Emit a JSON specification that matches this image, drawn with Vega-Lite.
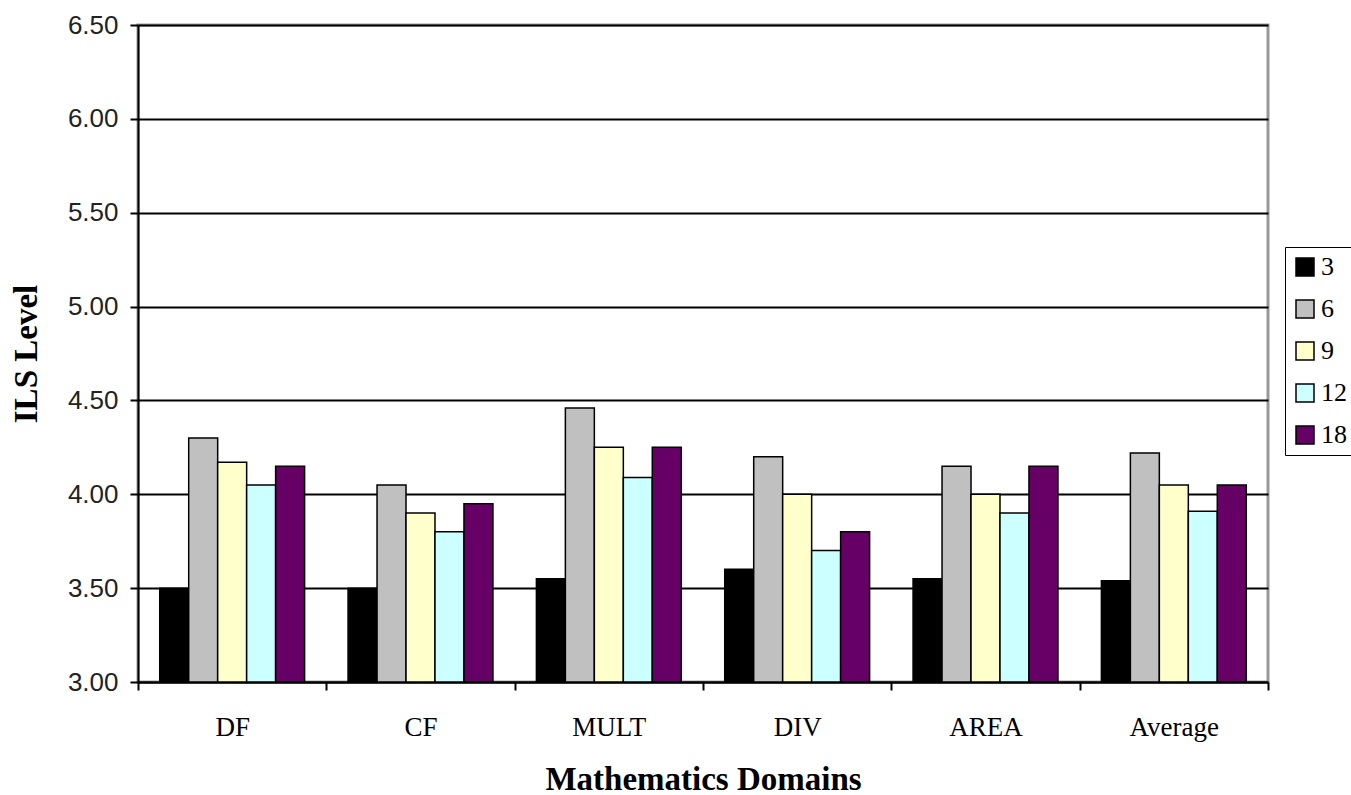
{
  "$schema": "https://vega.github.io/schema/vega-lite/v6.json",
  "autosize": "none",
  "width": 1130,
  "height": 657,
  "padding": {"left": 138, "top": 25, "right": 83, "bottom": 113},
  "background": "white",
  "view": {"stroke": "#999999", "strokeWidth": 3, "fill": "white"},
  "data": {
    "values": [
      {"domain": "DF", "series": "3", "level": 3.50},
      {"domain": "DF", "series": "6", "level": 4.30},
      {"domain": "DF", "series": "9", "level": 4.17},
      {"domain": "DF", "series": "12", "level": 4.05},
      {"domain": "DF", "series": "18", "level": 4.15},
      {"domain": "CF", "series": "3", "level": 3.50},
      {"domain": "CF", "series": "6", "level": 4.05},
      {"domain": "CF", "series": "9", "level": 3.90},
      {"domain": "CF", "series": "12", "level": 3.80},
      {"domain": "CF", "series": "18", "level": 3.95},
      {"domain": "MULT", "series": "3", "level": 3.55},
      {"domain": "MULT", "series": "6", "level": 4.46},
      {"domain": "MULT", "series": "9", "level": 4.25},
      {"domain": "MULT", "series": "12", "level": 4.09},
      {"domain": "MULT", "series": "18", "level": 4.25},
      {"domain": "DIV", "series": "3", "level": 3.60},
      {"domain": "DIV", "series": "6", "level": 4.20},
      {"domain": "DIV", "series": "9", "level": 4.00},
      {"domain": "DIV", "series": "12", "level": 3.70},
      {"domain": "DIV", "series": "18", "level": 3.80},
      {"domain": "AREA", "series": "3", "level": 3.55},
      {"domain": "AREA", "series": "6", "level": 4.15},
      {"domain": "AREA", "series": "9", "level": 4.00},
      {"domain": "AREA", "series": "12", "level": 3.90},
      {"domain": "AREA", "series": "18", "level": 4.15},
      {"domain": "Average", "series": "3", "level": 3.54},
      {"domain": "Average", "series": "6", "level": 4.22},
      {"domain": "Average", "series": "9", "level": 4.05},
      {"domain": "Average", "series": "12", "level": 3.91},
      {"domain": "Average", "series": "18", "level": 4.05}
    ]
  },
  "mark": {"type": "bar", "stroke": "black", "strokeWidth": 1.5},
  "encoding": {
    "x": {
      "field": "domain",
      "type": "nominal",
      "sort": ["DF", "CF", "MULT", "DIV", "AREA", "Average"],
      "scale": {"paddingInner": 0, "paddingOuter": 0},
      "axis": {
        "title": "Mathematics Domains",
        "labelAngle": 0,
        "tickBand": "extent",
        "domainColor": "black",
        "domainWidth": 2,
        "tickColor": "black",
        "tickWidth": 2,
        "tickSize": 8,
        "labelFont": "Liberation Serif",
        "labelFontSize": 27,
        "labelColor": "black",
        "labelPadding": 24,
        "titleFont": "Liberation Serif",
        "titleFontSize": 33,
        "titleFontWeight": "bold",
        "titleColor": "black",
        "titlePadding": 23
      }
    },
    "xOffset": {
      "field": "series",
      "type": "nominal",
      "sort": ["3", "6", "9", "12", "18"],
      "scale": {"paddingInner": 0, "paddingOuter": 0.75}
    },
    "y": {
      "field": "level",
      "type": "quantitative",
      "scale": {"domain": [3, 6.5], "nice": false, "zero": false},
      "axis": {
        "title": "ILS Level",
        "values": [3, 3.5, 4, 4.5, 5, 5.5, 6, 6.5],
        "format": ".2f",
        "grid": true,
        "gridColor": "black",
        "gridWidth": 2,
        "gridOpacity": 1,
        "domainColor": "black",
        "domainWidth": 2,
        "tickColor": "black",
        "tickWidth": 2,
        "tickSize": 8,
        "labelFont": "Liberation Sans",
        "labelFontSize": 26,
        "labelColor": "#222222",
        "labelPadding": 12,
        "titleFont": "Liberation Serif",
        "titleFontSize": 33,
        "titleFontWeight": "bold",
        "titleColor": "black",
        "titlePadding": 24
      }
    },
    "y2": {"datum": 3},
    "color": {
      "field": "series",
      "type": "nominal",
      "sort": ["3", "6", "9", "12", "18"],
      "scale": {
        "domain": ["3", "6", "9", "12", "18"],
        "range": ["#000000", "#C0C0C0", "#FFFFCC", "#CCFFFF", "#660066"]
      },
      "legend": {
        "title": null,
        "orient": "none",
        "legendX": 1147,
        "legendY": 222,
        "strokeColor": "black",
        "padding": 7,
        "symbolType": "square",
        "symbolSize": 324,
        "symbolStrokeColor": "black",
        "symbolStrokeWidth": 1.5,
        "symbolOpacity": 1,
        "labelFont": "Liberation Serif",
        "labelFontSize": 26,
        "labelColor": "black",
        "labelOffset": 3,
        "rowPadding": 16
      }
    }
  }
}
